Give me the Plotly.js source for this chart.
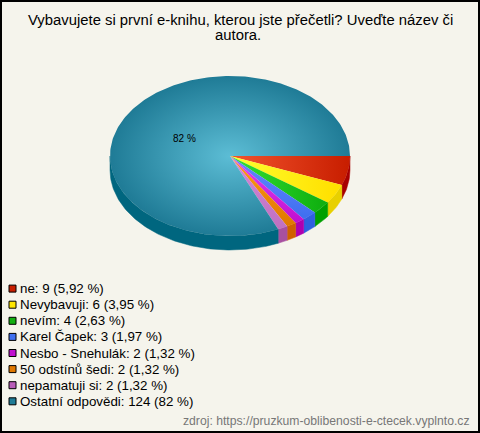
<!DOCTYPE html>
<html><head><meta charset="utf-8">
<script src="https://cdn.plot.ly/plotly-3.0.1.min.js"></script>
<style>html,body{margin:0;padding:0;background:#f5f4ec}#c{width:480px;height:433px}</style>
</head><body><div id="c"></div>
<script>
const names = ["ne","Nevybavuji","nevím","Karel Čapek","Nesbo - Snehulák","50 odstínů šedi","nepamatuji si","Ostatní odpovědi"];
const counts = [9,6,4,3,2,2,2,124];
const shares = ["5,92 %","3,95 %","2,63 %","1,97 %","1,32 %","1,32 %","1,32 %","82 %"];
const innerColors = ["#f2542e","#ffff30","#34e034","#6488ff","#e444f2","#ff9c18","#d488da","#5cbdd5"];
const outerColors = ["#c81e00","#ffe000","#10b010","#4070f0","#c010d0","#e07800","#c070c0","#1f7b96"];
const wallColors  = ["#a80000","#e8d000","#00a000","#3060e0","#b000b0","#d06000","#a850a0","#00667f"];
const swatchColors= ["#c81e00","#ffe600","#12b012","#4070f0","#c010d0","#e07800","#b85cb8","#1f7b96"];
const titleLines = ["Vybavujete si první e-knihu, kterou jste přečetli? Uveďte název či","autora."];
const sourceText = "zdroj: https://pruzkum-oblibenosti-e-ctecek.vyplnto.cz";

const cx=230, cy=156, rx=120, ry=80, depth=14;
const total = counts.reduce((a,b)=>a+b,0);
const rad = d=>d*Math.PI/180;
const pt = (a,off=0)=>[cx+rx*Math.cos(rad(a)), cy+ry*Math.sin(rad(a))+off];
function arc(a0,a1,off=0){const n=Math.max(2,Math.ceil(Math.abs(a1-a0)));const r=[];for(let i=0;i<=n;i++)r.push(pt(a0+(a1-a0)*i/n,off));return r;}
const traces=[]; const tops=[]; let cum=0;
counts.forEach((v,i)=>{
  const a0=cum/total*360, a1=(cum+v)/total*360; cum+=v;
  const w0=Math.min(a0,180), w1=Math.min(a1,180);
  if(w1>w0){
    const p=arc(w0,w1).concat(arc(w1,w0,depth));p.push(p[0]);
    traces.push({type:'scatter',mode:'lines',x:p.map(q=>q[0]),y:p.map(q=>q[1]),fill:'toself',fillcolor:wallColors[i],line:{width:0.5,color:wallColors[i]},hoverinfo:'skip',showlegend:false});
  }
  const p=[[cx,cy]].concat(arc(a0,a1));p.push([cx,cy]);
  const mid=(a0+a1)/2;
  const cs=[[0,innerColors[i]],[1,outerColors[i]]];
  let g;
  if(v/total>0.5) g={type:'radial',colorscale:cs};
  else if(mid<45) g={type:'horizontal',start:cx,stop:pt(mid)[0],colorscale:cs};
  else g={type:'vertical',start:cy,stop:pt(mid)[1],colorscale:cs};
  tops.push({type:'scatter',mode:'lines',x:p.map(q=>q[0]),y:p.map(q=>q[1]),fill:'toself',fillgradient:g,line:{width:0},hoverinfo:'skip',showlegend:false});
});
const rowY = names.map((_,i)=>288.6+i*16.1);
const labels = names.map((n,i)=>`${n}: ${counts[i]} (${shares[i]})`);
traces.push(...tops);
traces.push({type:'scatter',mode:'markers',x:names.map(()=>12.5),y:rowY,marker:{symbol:'square',size:7,color:swatchColors,line:{color:'#000',width:1}},hoverinfo:'skip',showlegend:false});
const font='"Liberation Sans",Arial,sans-serif';
const annotations = labels.map((t,i)=>({x:17.8,y:rowY[i],xref:'x',yref:'y',text:t,showarrow:false,xanchor:'left',yanchor:'middle',font:{family:font,size:13.33,color:'#000'}}));
annotations.push({x:184,y:138,xref:'x',yref:'y',text:shares[7],showarrow:false,font:{family:font,size:10,color:'#000'}});
annotations.push({x:472,y:421,xref:'x',yref:'y',text:sourceText,showarrow:false,xanchor:'right',yanchor:'middle',font:{family:font,size:12.2,color:'#777'}});
annotations.push({x:240,y:20,xref:'x',yref:'y',text:titleLines[0],showarrow:false,font:{family:font,size:14.85,color:'#000'}});
annotations.push({x:238,y:35,xref:'x',yref:'y',text:titleLines[1],showarrow:false,font:{family:font,size:14.85,color:'#000'}});
Plotly.newPlot('c',traces,{
  width:480,height:433,margin:{l:0,r:0,t:0,b:0},
  paper_bgcolor:'#f5f4ec',plot_bgcolor:'#f5f4ec',showlegend:false,
  xaxis:{range:[0,480],visible:false,fixedrange:true},
  yaxis:{range:[433,0],visible:false,fixedrange:true},
  annotations,
  shapes:[{type:'rect',xref:'x',yref:'y',x0:1,x1:479,y0:1,y1:432,line:{color:'#000',width:2},fillcolor:'rgba(0,0,0,0)'}]
},{displayModeBar:false,staticPlot:true});
</script></body></html>
